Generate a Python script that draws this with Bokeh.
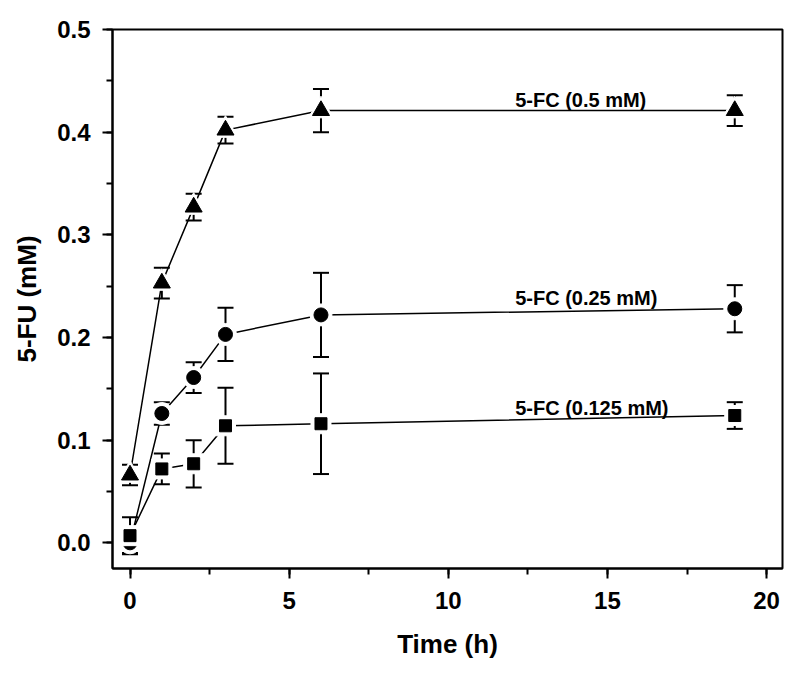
from bokeh.plotting import figure
from bokeh.models import (ColumnDataSource, Whisker, TeeHead, Range1d,
                          SingleIntervalTicker, PrintfTickFormatter, Label)
from bokeh.embed import file_html
from bokeh.resources import INLINE

# ---- data ----
time_h = [0, 1, 2, 3, 6, 19]

fu_05 = [0.066, 0.253, 0.327, 0.402, 0.421, 0.421]
err_05 = [0.010, 0.015, 0.013, 0.013, 0.021, 0.015]

fu_025 = [0.000, 0.126, 0.161, 0.203, 0.222, 0.228]
err_025 = [0.010, 0.011, 0.015, 0.026, 0.041, 0.023]

fu_0125 = [0.007, 0.072, 0.077, 0.114, 0.116, 0.124]
err_0125 = [0.018, 0.015, 0.023, 0.037, 0.049, 0.013]

series_labels = ["5-FC (0.5 mM)", "5-FC (0.25 mM)", "5-FC (0.125 mM)"]
label_x = [12.1, 12.1, 12.1]
label_y = [0.4315, 0.238, 0.131]

FONT = "Liberation Sans"

p = figure(frame_width=670, frame_height=539,
           min_border_left=112, min_border_right=2,
           min_border_top=29, min_border_bottom=92,
           x_range=Range1d(-0.55, 20.5), y_range=Range1d(-0.025, 0.5),
           output_backend="svg", toolbar_location=None,
           background_fill_color="white", border_fill_color="white")

p.grid.visible = False
p.outline_line_color = "black"
p.outline_line_width = 2

p.xaxis.ticker = SingleIntervalTicker(interval=5, num_minor_ticks=2)
p.yaxis.ticker = SingleIntervalTicker(interval=0.1, num_minor_ticks=2)
p.yaxis.formatter = PrintfTickFormatter(format="%.1f")

for ax in (p.xaxis[0], p.yaxis[0]):
    ax.axis_line_width = 2
    ax.axis_line_color = "black"
    ax.major_tick_line_width = 2
    ax.minor_tick_line_width = 2
    ax.major_tick_in = 0
    ax.major_tick_out = 10
    ax.minor_tick_in = 0
    ax.minor_tick_out = 6
    ax.major_label_text_font = FONT
    ax.major_label_text_font_style = "bold"
    ax.major_label_text_font_size = "24px"
    ax.major_label_text_color = "black"
    ax.axis_label_text_font = FONT
    ax.axis_label_text_font_style = "bold"
    ax.axis_label_text_font_size = "26px"
    ax.axis_label_text_color = "black"

p.xaxis.major_label_standoff = 13
p.yaxis.major_label_standoff = 12
p.xaxis.axis_label = "Time (h)"
p.yaxis.axis_label = "5-FU (mM)"
p.xaxis.axis_label_standoff = 17
p.yaxis.axis_label_standoff = 12

series = [
    (fu_05, err_05, "triangle", 17),
    (fu_025, err_025, "circle", 14),
    (fu_0125, err_0125, "square", 12),
]

for vals, errs, marker, size in series:
    src = ColumnDataSource(dict(
        x=time_h, y=vals,
        lo=[v - e for v, e in zip(vals, errs)],
        hi=[v + e for v, e in zip(vals, errs)],
    ))
    p.line("x", "y", source=src, line_color="black", line_width=1.5)
    # white halo to give the Origin-style gap between line and marker
    p.scatter("x", "y", source=src, marker=marker, size=size + 8,
              fill_color="white", line_color="white")
    w = Whisker(base="x", upper="hi", lower="lo", source=src,
                line_color="black", line_width=2,
                upper_head=TeeHead(size=16, line_width=2, line_color="black"),
                lower_head=TeeHead(size=16, line_width=2, line_color="black"))
    p.add_layout(w)
    p.scatter("x", "y", source=src, marker=marker, size=size,
              fill_color="black", line_color="black")

for txt, lx, ly in zip(series_labels, label_x, label_y):
    p.add_layout(Label(x=lx, y=ly, text=txt, text_font=FONT,
                       text_font_style="bold", text_font_size="20px",
                       text_color="black", text_align="left",
                       text_baseline="middle"))

open("out.html", "w").write(file_html(p, INLINE))
